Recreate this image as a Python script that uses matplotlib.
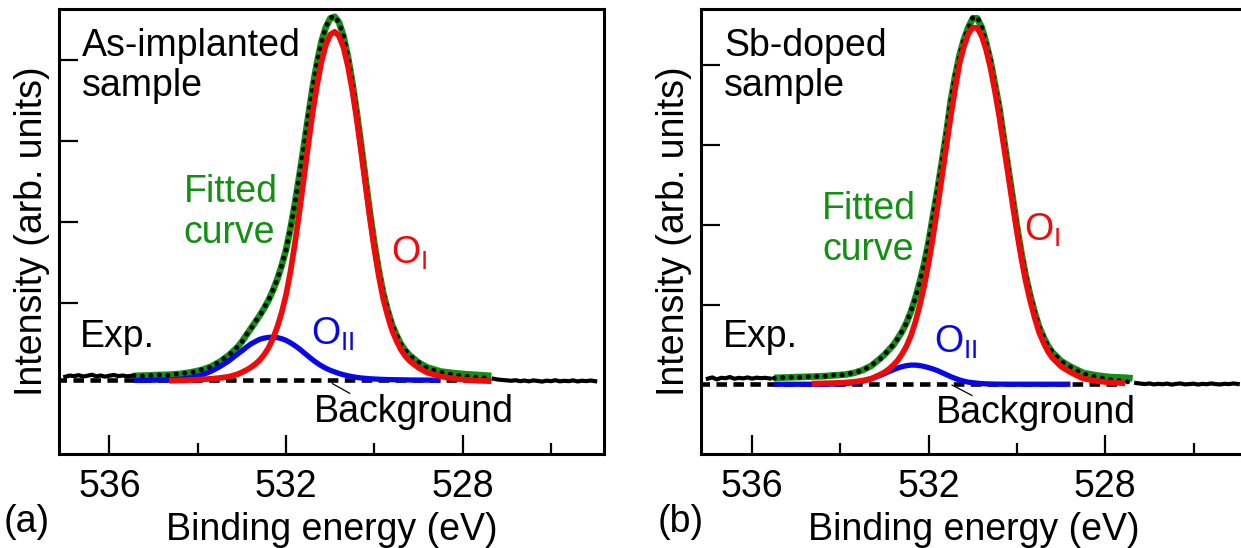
import numpy as np
import matplotlib
matplotlib.use("Agg")
import matplotlib.pyplot as plt

nan = np.nan

# ---------------- panel (a): as-implanted sample ----------------
e_a = [535.45, 535.2, 534.95, 534.65, 534.4, 534.15, 533.9, 533.7, 533.5, 533.3, 533.1,
       533.0, 532.9, 532.8, 532.7, 532.6, 532.5, 532.4, 532.3, 532.2, 532.1,
       532.0, 531.9, 531.8, 531.7, 531.6, 531.5, 531.4, 531.3, 531.2, 531.1,
       531.0, 530.9, 530.8, 530.7, 530.6, 530.5, 530.4, 530.3, 530.2, 530.1,
       530.0, 529.9, 529.8, 529.7, 529.6, 529.5, 529.4, 529.3, 529.2,
       529.0, 528.8, 528.5, 528.2, 527.9, 527.6, 527.35]
oi_a = [nan, nan, nan, 0.035, 0.04, 0.045, 0.052, 0.06, 0.07, 0.085, 0.116,
        0.14, 0.168, 0.20, 0.24, 0.29, 0.355, 0.44, 0.555, 0.70, 0.88,
        1.10, 1.39, 1.74, 2.12, 2.53, 2.95, 3.35, 3.69, 3.98, 4.19,
        4.32, 4.355, 4.30, 4.16, 3.93, 3.63, 3.27, 2.87, 2.45, 2.04,
        1.66, 1.33, 1.05, 0.84, 0.66, 0.53, 0.42, 0.34, 0.28,
        0.195, 0.135, 0.09, 0.06, 0.045, 0.035, 0.03]
oii_a = [0.040, 0.041, 0.043, 0.047, 0.055, 0.075, 0.108, 0.152, 0.21, 0.28, 0.365,
         0.405, 0.45, 0.49, 0.52, 0.548, 0.563, 0.572, 0.575, 0.57, 0.556,
         0.535, 0.505, 0.47, 0.43, 0.385, 0.34, 0.295, 0.255, 0.22, 0.19,
         0.165, 0.145, 0.125, 0.11, 0.097, 0.086, 0.077, 0.07, 0.065, 0.06,
         0.057, 0.054, 0.052, 0.05, 0.049, 0.048, 0.047, 0.046, 0.045,
         0.044, 0.043, 0.042, nan, nan, nan, nan]
fit_a = [0.095, 0.10, 0.105, 0.11, 0.12, 0.14, 0.17, 0.21, 0.27, 0.35, 0.45,
         0.52, 0.60, 0.68, 0.76, 0.84, 0.93, 1.03, 1.15, 1.29, 1.46,
         1.66, 1.92, 2.23, 2.57, 2.93, 3.30, 3.66, 3.97, 4.23, 4.41,
         4.52, 4.54, 4.47, 4.30, 4.05, 3.73, 3.36, 2.95, 2.53, 2.11,
         1.73, 1.40, 1.12, 0.91, 0.73, 0.60, 0.49, 0.41, 0.35,
         0.26, 0.20, 0.15, 0.13, 0.115, 0.105, 0.095]
exp_mid_a = [0.10, 0.092, 0.108, 0.104, 0.125, 0.135, 0.175, 0.205, 0.275, 0.345, 0.455,
             0.515, 0.605, 0.675, 0.765, 0.835, 0.935, 1.025, 1.155, 1.285, 1.465,
             1.655, 1.925, 2.225, 2.575, 2.925, 3.305, 3.655, 3.975, 4.225, 4.415,
             4.525, 4.55, 4.465, 4.305, 4.045, 3.735, 3.355, 2.955, 2.525, 2.115,
             1.725, 1.405, 1.115, 0.915, 0.725, 0.605, 0.485, 0.415, 0.345,
             0.265, 0.19, 0.14, 0.11, 0.09, 0.075, 0.065]
exp_left_e_a = [537.0, 536.9, 536.8, 536.7, 536.6, 536.5, 536.4, 536.3, 536.2, 536.1,
                536.0, 535.9, 535.8, 535.7, 535.6, 535.5]
exp_left_a = [0.085, 0.10, 0.092, 0.105, 0.088, 0.097, 0.11, 0.09, 0.1, 0.086,
              0.098, 0.107, 0.093, 0.1, 0.09, 0.097]
exp_right_e_a = [527.3, 527.2, 527.1, 527.0, 526.9, 526.8, 526.7, 526.6, 526.5, 526.4,
                 526.3, 526.2, 526.1, 526.0, 525.9, 525.8, 525.7, 525.6, 525.5, 525.4,
                 525.3, 525.2, 525.1, 525.0]
exp_right_a = [0.06, 0.05, 0.045, 0.04, 0.035, 0.042, 0.03, 0.038, 0.028, 0.04,
               0.033, 0.025, 0.037, 0.03, 0.042, 0.028, 0.035, 0.03, 0.04, 0.027,
               0.036, 0.031, 0.038, 0.03]
bg_e_a = [537.2, 527.4]
bg_a = [0.04, 0.04]

# ---------------- panel (b): Sb-doped sample ----------------
e_b = [535.5, 535.2, 534.95, 534.65, 534.4, 534.15, 533.9, 533.7, 533.5, 533.3, 533.1,
       533.0, 532.9, 532.8, 532.7, 532.6, 532.5, 532.4, 532.3, 532.2, 532.1,
       532.0, 531.9, 531.8, 531.7, 531.6, 531.5, 531.4, 531.3, 531.2, 531.1,
       531.0, 530.9, 530.8, 530.7, 530.6, 530.5, 530.4, 530.3, 530.2, 530.1,
       530.0, 529.9, 529.8, 529.7, 529.6, 529.5, 529.4, 529.3, 529.2,
       529.0, 528.79, 528.5, 528.2, 527.9, 527.55, 527.38]
oi_b = [nan, nan, nan, 0.018, 0.021, 0.025, 0.03, 0.04, 0.055, 0.08, 0.13,
        0.16, 0.20, 0.25, 0.31, 0.39, 0.49, 0.62, 0.79, 1.00, 1.24,
        1.53, 1.86, 2.22, 2.60, 2.98, 3.36, 3.70, 4.02, 4.23, 4.39,
        4.465, 4.46, 4.36, 4.19, 3.96, 3.67, 3.35, 2.99, 2.63, 2.26,
        1.91, 1.58, 1.29, 1.05, 0.84, 0.66, 0.53, 0.42, 0.34,
        0.23, 0.16, 0.082, 0.05, 0.032, 0.022, nan]
oii_b = [0.01, 0.01, 0.01, 0.01, 0.011, 0.012, 0.018, 0.029, 0.048, 0.079, 0.12,
         0.143, 0.168, 0.191, 0.213, 0.23, 0.2425, 0.249, 0.249, 0.2425, 0.232,
         0.217, 0.20, 0.18, 0.155, 0.13, 0.105, 0.083, 0.064, 0.048, 0.036,
         0.029, 0.023, 0.018, 0.015, 0.013, 0.012, 0.011, 0.011, 0.01, 0.01,
         0.01, 0.01, 0.01, 0.01, 0.01, 0.01, 0.01, 0.01, 0.01,
         0.01, 0.01, nan, nan, nan, nan, nan]
fit_b = [0.09, 0.095, 0.10, 0.105, 0.11, 0.12, 0.13, 0.15, 0.185, 0.24, 0.33,
         0.38, 0.44, 0.50, 0.583, 0.67, 0.78, 0.92, 1.09, 1.29, 1.52,
         1.79, 2.12, 2.44, 2.79, 3.15, 3.55, 3.86, 4.12, 4.32, 4.47,
         4.58, 4.58, 4.47, 4.28, 4.05, 3.76, 3.47, 3.09, 2.72, 2.35,
         1.98, 1.65, 1.36, 1.12, 0.91, 0.73, 0.60, 0.49, 0.41,
         0.30, 0.23, 0.152, 0.12, 0.10, 0.092, 0.083]
exp_mid_b = [0.085, 0.098, 0.094, 0.108, 0.105, 0.125, 0.128, 0.155, 0.18, 0.245, 0.325,
             0.385, 0.435, 0.505, 0.578, 0.675, 0.775, 0.925, 1.085, 1.295, 1.515,
             1.795, 2.115, 2.445, 2.785, 3.155, 3.545, 3.865, 4.115, 4.325, 4.465,
             4.59, 4.6, 4.475, 4.275, 4.055, 3.755, 3.475, 3.085, 2.725, 2.345,
             1.985, 1.645, 1.365, 1.115, 0.915, 0.725, 0.605, 0.485, 0.415,
             0.295, 0.225, 0.14, 0.1, 0.07, 0.045, 0.03]
exp_left_e_b = [537.0, 536.9, 536.8, 536.7, 536.6, 536.5, 536.4, 536.3, 536.2, 536.1,
                536.0, 535.9, 535.8, 535.7, 535.6]
exp_left_b = [0.08, 0.095, 0.07, 0.09, 0.085, 0.1, 0.078, 0.09, 0.083, 0.095,
              0.08, 0.092, 0.086, 0.09, 0.082]
exp_right_e_b = exp_right_e_a
exp_right_b = [0.025, 0.018, 0.012, 0.02, 0.008, 0.015, 0.01, 0.018, 0.005, 0.014,
               0.02, 0.008, 0.012, 0.017, 0.006, 0.015, 0.01, 0.02, 0.012, 0.007,
               0.016, 0.011, 0.02, 0.013]
bg_e_b = [537.2, 527.6]
bg_b = [0.009, 0.009]

RED = "#f00a0a"
BLUE = "#0808e6"
GREEN = "#139013"


def draw_panel(ax, d, ylim, txt):
    ax.plot(d["bg_e"], d["bg"], color="black", lw=3.3, ls=(0, (2.3, 1.4)), zorder=1)
    ax.plot(d["e"], d["fit"], color=GREEN, lw=4.8, zorder=2, solid_capstyle="butt")
    ax.plot(d["e"], d["exp"], color="black", lw=3.5, ls=(0, (0.05, 1.7)),
            dash_capstyle="round", zorder=3)
    ax.plot(d["exp_le"], d["exp_l"], color="black", lw=3.0, zorder=3)
    ax.plot(d["exp_re"], d["exp_r"], color="black", lw=3.0, zorder=3)
    ax.plot(d["e"], d["oii"], color=BLUE, lw=3.8, zorder=4, solid_capstyle="butt")
    ax.plot(d["e"], d["oi"], color=RED, lw=4.1, zorder=5, solid_capstyle="butt")

    ax.set_xlim(537.15, 524.8)
    ax.set_ylim(*ylim)
    ax.set_xticks([536, 532, 528])
    ax.set_xticks([534, 530, 526], minor=True)
    ax.set_yticks([1, 2, 3, 4])
    ax.set_yticklabels([])
    ax.tick_params(axis="x", which="major", direction="in", length=14, width=1.6, pad=11)
    ax.tick_params(axis="x", which="minor", direction="in", length=8, width=1.6)
    ax.tick_params(axis="y", direction="in", length=14, width=1.6)
    for sp in ax.spines.values():
        sp.set_linewidth(2.2)
    ax.set_xlabel("Binding energy (eV)", labelpad=5)
    ax.set_ylabel("Intensity (arb. units)", labelpad=3)

    # annotations
    ax.text(*txt["title1"], txt["name"], ha="left", va="baseline")
    ax.text(*txt["title2"], "sample", ha="left", va="baseline")
    ax.text(*txt["fit1"], "Fitted", color=GREEN, ha="left", va="baseline")
    ax.text(*txt["fit2"], "curve", color=GREEN, ha="left", va="baseline")
    ax.text(*txt["oi"], r"O$_{\mathrm{I}}$", color=RED, ha="left", va="baseline")
    ax.text(*txt["oii"], r"O$_{\mathrm{II}}$", color=BLUE, ha="left", va="baseline")
    ax.text(*txt["exp"], "Exp.", ha="left", va="baseline")
    ax.text(*txt["bg"], "Background", ha="left", va="baseline")
    (x0, y0), (x1, y1) = txt["lead"]
    ax.plot([x0, x1], [y0, y1], color="black", lw=0.9, zorder=6)


def main():
    plt.rcParams["font.family"] = ["Liberation Sans", "DejaVu Sans"]
    plt.rcParams["font.size"] = 27
    plt.rcParams["mathtext.fontset"] = "custom"
    plt.rcParams["mathtext.rm"] = "Liberation Sans"
    plt.rcParams["mathtext.it"] = "Liberation Sans:italic"

    fig = plt.figure(figsize=(12.41, 5.48), dpi=100)
    ax_a = fig.add_axes([0.0473, 0.1723, 0.4394, 0.8118])
    ax_b = fig.add_axes([0.5651, 0.1723, 0.4394, 0.8118])

    da = dict(e=e_a, oi=oi_a, oii=oii_a, fit=fit_a, exp=exp_mid_a,
              exp_le=exp_left_e_a, exp_l=exp_left_a,
              exp_re=exp_right_e_a, exp_r=exp_right_a, bg_e=bg_e_a, bg=bg_a)
    db = dict(e=e_b, oi=oi_b, oii=oii_b, fit=fit_b, exp=exp_mid_b,
              exp_le=exp_left_e_b, exp_l=exp_left_b,
              exp_re=exp_right_e_b, exp_r=exp_right_b, bg_e=bg_e_b, bg=bg_b)

    txt_a = dict(name="As-implanted", title1=(536.63, 4.06), title2=(536.63, 3.56),
                 fit1=(534.32, 2.25), fit2=(534.32, 1.74), oi=(529.63, 1.48),
                 oii=(531.44, 0.478), exp=(536.67, 0.457), bg=(531.38, -0.47),
                 lead=((530.95, 0.0), (530.56, -0.12)))
    txt_b = dict(name="Sb-doped", title1=(536.63, 4.11), title2=(536.63, 3.61),
                 fit1=(534.41, 2.07), fit2=(534.41, 1.565), oi=(529.85, 1.805),
                 oii=(531.87, 0.41), exp=(536.66, 0.48), bg=(531.83, -0.478),
                 lead=((531.47, 0.0), (531.02, -0.13)))

    draw_panel(ax_a, da, (-0.866, 4.64), txt_a)
    draw_panel(ax_b, db, (-0.856, 4.70), txt_b)

    fig.text(4 / 1241, 0.03, "(a)", ha="left", va="baseline")
    fig.text(658 / 1241, 0.03, "(b)", ha="left", va="baseline")

    fig.savefig("out.png", dpi=100)
    plt.close(fig)


if __name__ == "__main__":
    main()
